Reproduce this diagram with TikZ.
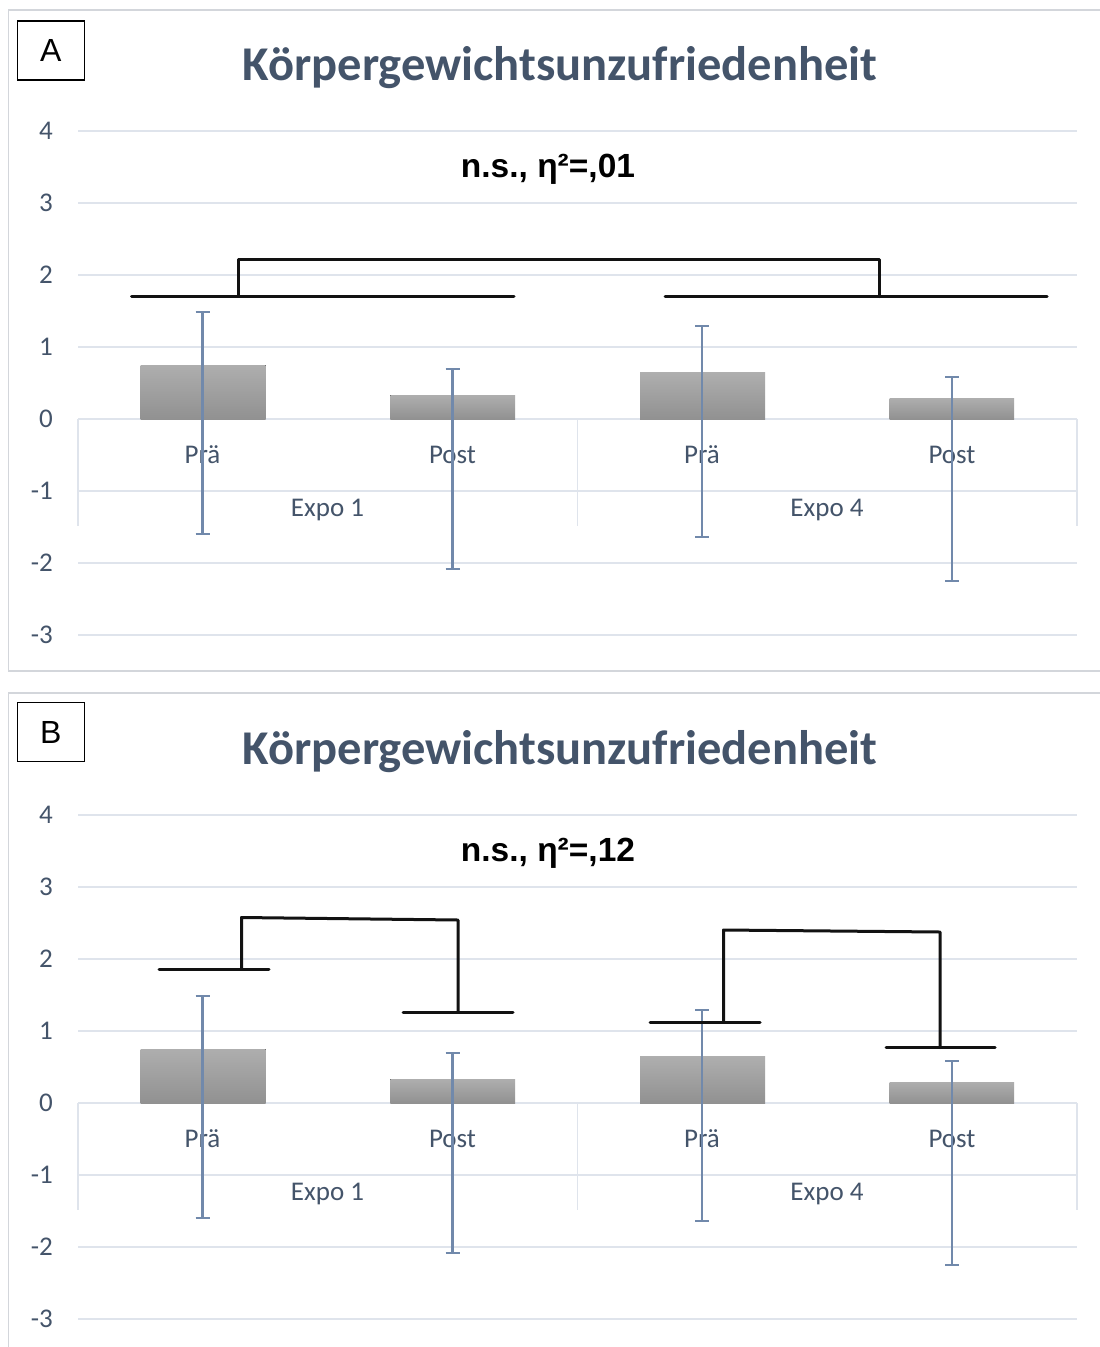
\documentclass[tikz,border=0pt]{standalone}
\usepackage{fontspec}
\setmainfont{Carlito}
\newfontfamily\arialfont{Liberation Sans}
\definecolor{txt}{HTML}{44546A}
\definecolor{gridc}{HTML}{DFE4EC}
\definecolor{ebar}{HTML}{7189AB}
\definecolor{framec}{HTML}{D3D6DB}
\definecolor{bartop}{HTML}{AEAEAE}
\definecolor{barbot}{HTML}{919191}
\definecolor{brkc}{HTML}{121212}
\tikzset{
  gridln/.style={draw=gridc, line width=1.8pt},
  framebox/.style={draw=framec, line width=1.6pt},
  barbox/.style={top color=bartop, bottom color=barbot, draw=none},
  errln/.style={draw=ebar, line width=2.3pt},
  brk/.style={draw=brkc, line width=3pt, line cap=round, line join=round},
  ticklbl/.style={text=txt, font=\fontsize{27}{30}\selectfont, anchor=east, inner sep=0pt},
  catlbl/.style={text=txt, font=\fontsize{27}{30}\selectfont, anchor=base, inner sep=0pt},
  ttl/.style={text=txt, font=\bfseries\fontsize{48.5}{52}\selectfont, anchor=base, inner sep=0pt},
  nslbl/.style={text=black, font=\arialfont\bfseries\fontsize{33.5}{36}\selectfont, anchor=base, inner sep=0pt},
  letterbox/.style={draw=black, line width=1.4pt, minimum width=67pt, minimum height=59pt, inner sep=0pt,
     font=\arialfont\fontsize{32}{34}\selectfont, text=black}
}
% #1 prefix, #2 eta text
\newcommand\chartpanel[2]{%
  % gridlines
  \foreach \v in {4,3,2,1,0,-1,-2,-3}{
    \draw[gridln] (78,{419-72*\v}) -- (1077,{419-72*\v});
    \node[ticklbl] (#1-tick\v) at (53,{419-72*\v}) {\ifnum\v<0 -\the\numexpr-\v\relax\else\v\fi};
  }
  % category separators
  \foreach \sx in {78,577.5,1077}{
    \draw[gridln] (\sx,419) -- (\sx,526);
  }
  % bars
  \fill[barbox] (140.6,419) rectangle (265.5,{419-72*0.75});
  \fill[barbox] (390.4,419) rectangle (515,{419-72*0.33});
  \fill[barbox] (640,419) rectangle (765,{419-72*0.64});
  \fill[barbox] (889.5,419) rectangle (1014,{419-72*0.29});
  % labels
  \node[catlbl] (#1-pra1) at (202.5,463) {Prä};
  \node[catlbl] (#1-post1) at (452.5,463) {Post};
  \node[catlbl] (#1-pra4) at (702,463) {Prä};
  \node[catlbl] (#1-post4) at (952,463) {Post};
  \node[catlbl] (#1-expo1) at (327.5,516.5) {Expo 1};
  \node[catlbl] (#1-expo4) at (827,516.5) {Expo 4};
  % error bars
  \foreach \ex/\et/\eb in {202.5/311.7/533.7, 452.5/369.3/569, 702/326/537.3, 952/376.7/581}{
    \draw[errln] (\ex-7,\et) -- (\ex+7,\et) (\ex,\et) -- (\ex,\eb) (\ex-7,\eb) -- (\ex+7,\eb);
  }
  % title
  \node[ttl] (#1-title) at (560,80) {Körpergewichtsunzufriedenheit};
  \node[nslbl] (#1-ns) at (548,177) {n.s., η²=,#2};
}
\begin{document}
\begin{tikzpicture}[x=1pt,y=-1pt]
\useasboundingbox (0,0) rectangle (1100,1347);
\fill[white] (0,0) rectangle (1100,1347);
% panel frames
\draw[framebox] (1103,10) -- (8.5,10) -- (8.5,671) -- (1103,671);
\draw[framebox] (1103,693) -- (8.5,693) -- (8.5,1360);
% ---------- Panel A ----------
\begin{scope}
  \chartpanel{A}{01}
  \node[letterbox] (A-letter) at (50.7,50.5) {A};
  \coordinate (A-l1) at (131.5,296);
  \coordinate (A-r1) at (514,296);
  \coordinate (A-l4) at (665,296.5);
  \coordinate (A-r4) at (1047,296.5);
  \coordinate (A-j1) at (238,296);
  \coordinate (A-j4) at (879.5,296.5);
  \draw[brk] (A-l1) -- (A-r1);
  \draw[brk] (A-l4) -- (A-r4);
  \draw[brk] (A-j1) -- (238,259) -- (879.5,259) -- (A-j4);
\end{scope}
% ---------- Panel B ----------
\begin{scope}[shift={(0,684)}]
  \chartpanel{B}{12}
  \node[letterbox] (B-letter) at (50.7,48) {B};
  % Expo 1
  \coordinate (B-pl1) at (159,285);
  \coordinate (B-pr1) at (269,285);
  \coordinate (B-ql1) at (403,328);
  \coordinate (B-qr1) at (513,328);
  \coordinate (B-pj1) at (241.5,285);
  \coordinate (B-qj1) at (458,328);
  \draw[brk] (B-pl1) -- (B-pr1);
  \draw[brk] (B-ql1) -- (B-qr1);
  \draw[brk] (B-pj1) -- (241.5,233.5) -- (458,236) -- (B-qj1);
  % Expo 4
  \coordinate (B-pl4) at (650,338);
  \coordinate (B-pr4) at (760,338);
  \coordinate (B-ql4) at (886,363.5);
  \coordinate (B-qr4) at (995,363.5);
  \coordinate (B-pj4) at (723.5,338);
  \coordinate (B-qj4) at (940,363.5);
  \draw[brk] (B-pl4) -- (B-pr4);
  \draw[brk] (B-ql4) -- (B-qr4);
  \draw[brk] (B-pj4) -- (723.5,246) -- (940,248) -- (B-qj4);
\end{scope}
\end{tikzpicture}
\end{document}
